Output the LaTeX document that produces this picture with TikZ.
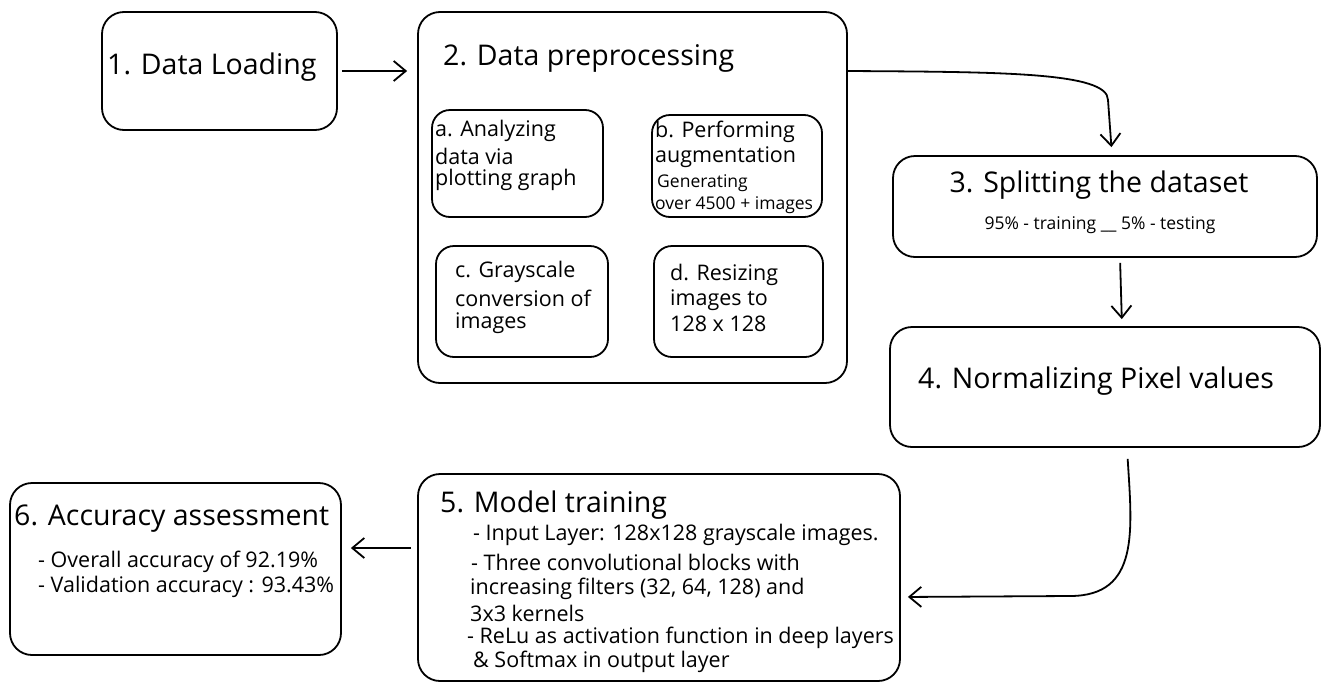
\documentclass[tikz,border=0pt]{standalone}
\usepackage{fontspec}
\setmainfont{Open Sans}
\usetikzlibrary{arrows.meta,calc}
\tikzset{
  box/.style={draw, line width=1.8pt, rounded corners=22pt, inner sep=0pt},
  sbox/.style={draw, line width=1.8pt, rounded corners=18pt, inner sep=0pt},
  arr/.style={line width=1.8pt, -{Straight Barb[length=12pt,width=20pt,line width=1.8pt]}},
  big/.style={font=\fontsize{28.5}{32}\selectfont, inner sep=0pt, anchor=west},
  mid/.style={font=\fontsize{21.5}{25}\selectfont, inner sep=0pt, anchor=west},
  sml/.style={font=\fontsize{17.5}{20}\selectfont, inner sep=0pt, anchor=west},
}
\begin{document}
\begin{tikzpicture}[x=1pt,y=-1pt]
\useasboundingbox[fill=white] (0,0) rectangle (1328,691);
% boxes
\node[box, minimum width=235pt, minimum height=118pt] (b1) at (219.5,71) {};
\node[box, minimum width=429pt, minimum height=371pt] (b2) at (632.5,197.5) {};
\node[sbox, minimum width=171pt, minimum height=107pt] (ba) at (517.5,163.5) {};
\node[sbox, minimum width=170pt, minimum height=102pt] (bb) at (737,166) {};
\node[sbox, minimum width=172pt, minimum height=111pt] (bc) at (522,301.5) {};
\node[sbox, minimum width=169pt, minimum height=111pt] (bd) at (738.5,301.5) {};
\node[box, minimum width=424pt, minimum height=101pt] (b3) at (1105,206.5) {};
\node[box, minimum width=430pt, minimum height=120pt] (b4) at (1105,387) {};
\node[box, minimum width=482pt, minimum height=207pt] (b5) at (659,577.5) {};
\node[box, minimum width=331pt, minimum height=172pt] (b6) at (175.5,569) {};
% texts
\node[big] (t1) at (107,67) {1. Data Loading};
\node[big] (t2) at (443,58) {2. Data preprocessing};
\node[mid] (ta1) at (435,131) {a. Analyzing};
\node[mid] (ta2) at (435,156) {data via};
\node[mid] (ta3) at (435,180) {plotting graph};
\node[mid] (tb1) at (655,132) {b. Performing};
\node[mid] (tb2) at (655,157) {augmentation};
\node[sml] (tb3) at (657,183) {Generating};
\node[sml] (tb4) at (655,205) {over 4500 + images};
\node[mid] (tc1) at (455,272) {c. Grayscale};
\node[mid] (tc2) at (455,298) {conversion of};
\node[mid] (tc3) at (455,323) {images};
\node[mid] (td1) at (670,275) {d. Resizing};
\node[mid] (td2) at (670,300) {images to};
\node[mid] (td3) at (670,324) {128 x 128};
\node[big, anchor=center] (t3) at (1099,185) {3. Splitting the dataset};
\node[sml, anchor=center] (t3b) at (1100,225) {95\% - training \_\_ 5\% - testing};
\node[big] (t4) at (918,381) {4. Normalizing Pixel values};
\node[big] (t5) at (440,505) {5. Model training};
\node[mid] (t51) at (473,535) {- Input Layer: 128x128 grayscale images.};
\node[mid] (t52) at (471,562) {- Three convolutional blocks with};
\node[mid] (t53) at (470,589) {increasing filters (32, 64, 128) and};
\node[mid] (t54) at (470,613) {3x3 kernels};
\node[mid] (t55) at (467,638) {- ReLu as activation function in deep layers};
\node[mid] (t56) at (473,662) {\& Softmax in output layer};
\node[big] (t6) at (14,519) {6. Accuracy assessment};
\node[mid] (t61) at (38,562) {- Overall accuracy of 92.19\%};
\node[mid] (t62) at (38,587) {- Validation accuracy : 93.43\%};
% connectors
\draw[arr, shorten <=4pt, shorten >=10pt] (b1.east) -- (b1.east -| b2.west);
\draw[arr, shorten >=8pt] (b2.east |- b1.east) .. controls (1000,72) and (1108,72) .. (1108,100) -- ([xshift=7pt]b3.north);
\draw[arr, shorten <=5pt, shorten >=7pt] ([xshift=15pt]b3.south) -- ([xshift=17pt]b4.north);
\draw[arr, shorten <=11pt, shorten >=7pt] ([xshift=22pt]b4.south) .. controls (1132,530) and (1140,596) .. (1070,596) -- ([yshift=-19.5pt]b5.east);
\draw[arr, shorten <=6pt, shorten >=9pt] ([yshift=29.5pt]b5.west) -- ([yshift=21pt]b6.east);
\end{tikzpicture}
\end{document}
